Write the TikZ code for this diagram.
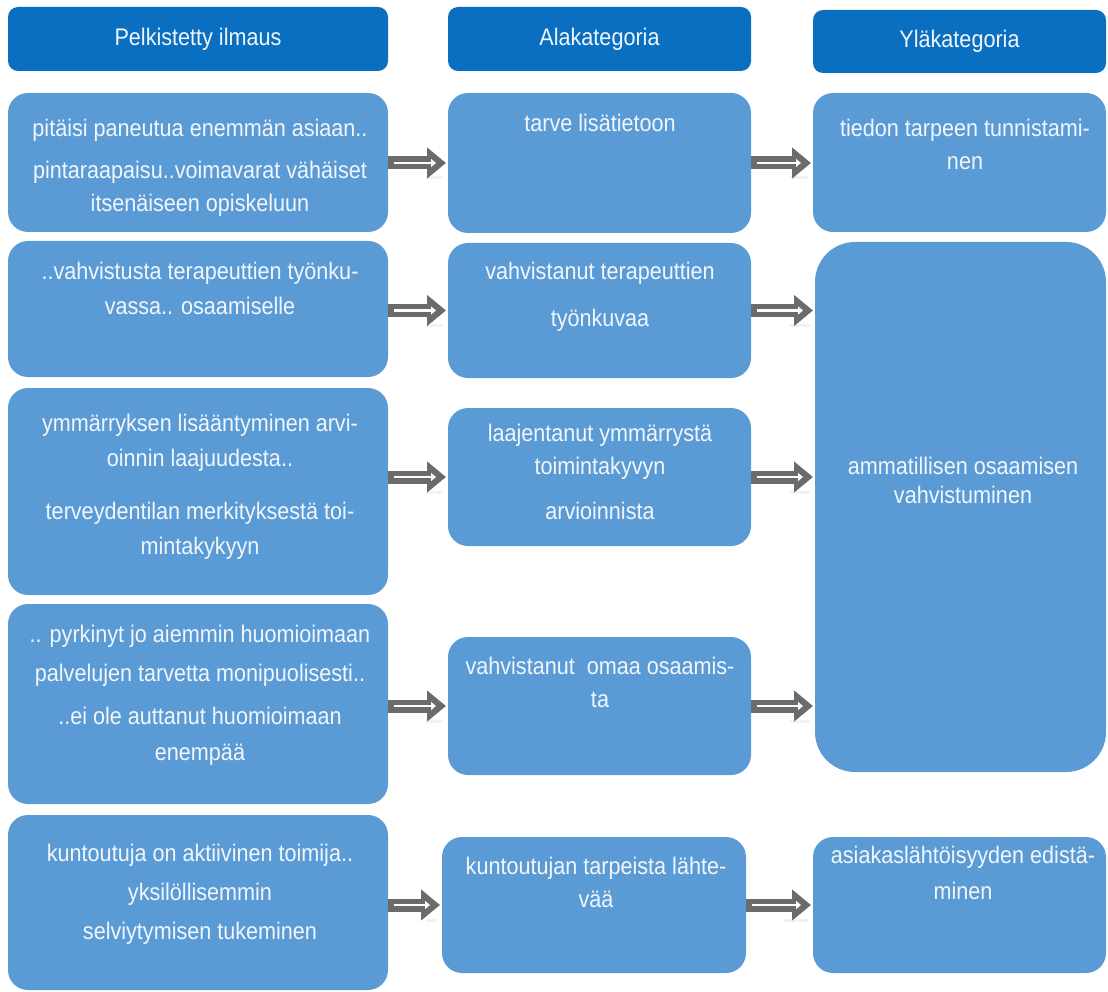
\documentclass[tikz,border=0pt]{standalone}
\usepackage{fontspec}
\setmainfont[FakeStretch=0.9]{Liberation Sans}
\usetikzlibrary{arrows.meta}
\definecolor{headblue}{HTML}{0A6FC0}
\definecolor{boxblue}{HTML}{5B9BD5}
\definecolor{txtc}{HTML}{F0F6FC}
\definecolor{arrowgray}{HTML}{6B6B6B}

% gray block arrow with a white inner arrow and a faint reflection below
\newcommand\blockarrow[2]{%
  \draw[arrowshade] #1 -- #2;
  \draw[arrowbody] #1 -- #2;
  \draw[arrowline] #1 -- #2;}

\begin{document}
\begin{tikzpicture}[x=1pt,y=-1pt,
  head/.style={fill=headblue, rounded corners=10pt, anchor=north west, inner sep=0pt, outer sep=0pt,
    text=txtc, font=\fontsize{24}{33}\selectfont},
  card/.style={fill=boxblue, rounded corners=20pt, anchor=north west, inner sep=0pt, outer sep=0pt},
  txt/.style={text=txtc, font=\fontsize{24}{33}\selectfont, align=center, inner sep=0pt, anchor=north},
  arrowbody/.style={draw=arrowgray, line width=13pt, shorten >=2pt, -{Triangle[length=19pt,width=30pt]}},
  arrowline/.style={draw=white, line width=2.6pt, shorten <=6pt, shorten >=12pt, -{Triangle[length=5pt,width=8pt]}},
  arrowshade/.style={draw=black!5, line width=3pt, shorten <=38pt, shorten >=5pt, transform canvas={yshift=-15pt}},
]
\useasboundingbox (0,0) rectangle (1108,992);

% column headers
\node[head, minimum width=380pt, minimum height=64pt] (h1) at (8,7) {Pelkistetty ilmaus};
\node[head, minimum width=303pt, minimum height=64pt] (h2) at (448,7) {Alakategoria};
\node[head, minimum width=293pt, minimum height=63pt] (h3) at (813,10) {Yläkategoria};

% first column: reduced expressions
\node[card, minimum width=380pt, minimum height=139pt] (p1) at (8,93) {};
\node[card, minimum width=380pt, minimum height=136pt] (p2) at (8,241) {};
\node[card, minimum width=380pt, minimum height=207pt] (p3) at (8,388) {};
\node[card, minimum width=380pt, minimum height=200pt] (p4) at (8,604) {};
\node[card, minimum width=380pt, minimum height=175pt] (p5) at (8,815) {};

% second column: subcategories
\node[card, minimum width=303pt, minimum height=140pt] (a1) at (448,93) {};
\node[card, minimum width=303pt, minimum height=135pt] (a2) at (448,243) {};
\node[card, minimum width=303pt, minimum height=138pt] (a3) at (448,408) {};
\node[card, minimum width=303pt, minimum height=138pt] (a4) at (448,637) {};
\node[card, minimum width=304pt, minimum height=136pt] (a5) at (442,837) {};

% third column: main categories
\node[card, minimum width=293pt, minimum height=139pt] (y1) at (813,93) {};
\node[card, minimum width=291pt, minimum height=530pt, rounded corners=40pt] (y2) at (815,242) {};
\node[card, minimum width=293pt, minimum height=136pt] (y3) at (813,837) {};

% texts of the first column
\node[txt] (p1t) at (200,118) {\rule{0pt}{18pt}pitäisi paneutua enemmän asiaan..\\[9pt]pintaraapaisu..voimavarat vähäiset\\itsenäiseen opiskeluun};
\node[txt] (p2t) at (200,261) {\rule{0pt}{18pt}..vahvistusta terapeuttien työnku-\\[2pt]vassa.. osaamiselle};
\node[txt] (p3t) at (200,413) {\rule{0pt}{18pt}ymmärryksen lisääntyminen arvi-\\[2pt]oinnin laajuudesta..\\[20pt]terveydentilan merkityksestä toi-\\[2pt]mintakykyyn};
\node[txt] (p4t) at (200,624) {\rule{0pt}{18pt}.. pyrkinyt jo aiemmin huomioimaan\\[6pt]palvelujen tarvetta monipuolisesti..\\[10pt]..ei ole auttanut huomioimaan\\[3pt]enempää};
\node[txt] (p5t) at (200,843) {\rule{0pt}{18pt}kuntoutuja on aktiivinen toimija..\\[6pt]yksilöllisemmin\\[6pt]selviytymisen tukeminen};

% texts of the second column
\node[txt] (a1t) at (600,113) {\rule{0pt}{18pt}tarve lisätietoon};
\node[txt] (a2t) at (600,261) {\rule{0pt}{18pt}vahvistanut terapeuttien\\[14pt]työnkuvaa};
\node[txt] (a3t) at (600,423) {\rule{0pt}{18pt}laajentanut ymmärrystä\\toimintakyvyn\\[12pt]arvioinnista};
\node[txt] (a4t) at (600,656) {\rule{0pt}{18pt}vahvistanut~ omaa osaamis-\\ta};
\node[txt] (a5t) at (596,856) {\rule{0pt}{18pt}kuntoutujan tarpeista lähte-\\vää};

% texts of the third column
\node[txt] (y1t) at (965,118) {\rule{0pt}{18pt}tiedon tarpeen tunnistami-\\nen};
\node[txt] (y2t) at (963,456) {\rule{0pt}{18pt}ammatillisen osaamisen\\[-4pt]vahvistuminen};
\node[txt] (y3t) at (963,845) {\rule{0pt}{18pt}asiakaslähtöisyyden edistä-\\[3pt]minen};

% arrows from reduced expressions to subcategories
\blockarrow{(p1.east |- a1.west)}{(a1.west)}
\blockarrow{(p2.east |- a2.west)}{(a2.west)}
\blockarrow{(p3.east |- a3.west)}{(a3.west)}
\blockarrow{(p4.east |- a4.west)}{(a4.west)}
\blockarrow{(p5.east |- a5.west)}{(a5.west)}

% arrows from subcategories to main categories
\blockarrow{(a1.east)}{(a1.east -| y1.west)}
\blockarrow{(a2.east)}{(a2.east -| y2.west)}
\blockarrow{(a3.east)}{(a3.east -| y2.west)}
\blockarrow{(a4.east)}{(a4.east -| y2.west)}
\blockarrow{(a5.east)}{(a5.east -| y3.west)}
\end{tikzpicture}
\end{document}
